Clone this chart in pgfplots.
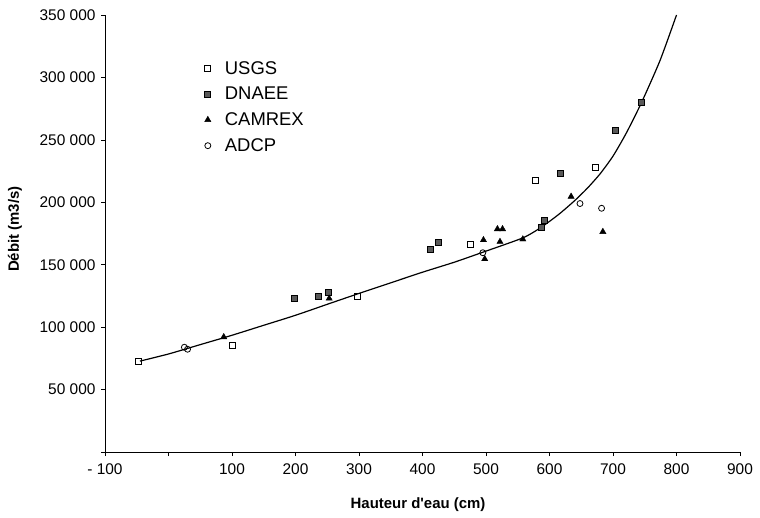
\documentclass[border=0pt]{standalone}
\usepackage{fontspec}
\setmainfont{Liberation Sans}[Ligatures=TeXOff]
\usepackage{pgfplots}
\usepackage{pgfplotstable}
\pgfplotsset{compat=1.18}
\pgfplotstableread{
x y
-48 72500
101 85500
297 124500
476 166000
578 217800
673 228300
}\usgs
\pgfplotstableread{
x y
198 123100
236 124400
252 127600
412 162300
425 167600
587 180000
592 185200
617 223500
704 257900
745 279800
}\dnaee
\pgfplotstableread{
x y
87 92100
253 123000
496 169800
498 154600
518 178600
526 178600
522 168400
558 170400
634 204600
684 176400
}\camrex
\pgfplotstableread{
x y
25 83900
30 82300
495 159600
648 199000
682 195200
}\adcp
\pgfplotstableread{
x y
-45 72800
0 78500
50 86000
100 93500
150 101500
200 109500
254 119000
300 127000
350 135500
400 144000
450 152000
495 160000
558 171500
587 180000
615 190500
640 201500
660 211500
680 223000
700 237000
721 255500
745 280000
774 313500
800 350000
}\curve
\begin{document}
\begin{tikzpicture}
\begin{axis}[
  scale only axis, width=635bp, height=437bp,
  xmin=-100, xmax=900, ymin=0, ymax=350000,
  axis x line*=bottom, axis y line*=left,
  axis line style={black, line width=0.7bp},
  xtick={-100,0,100,200,300,400,500,600,700,800,900},
  xticklabels={- 100,,100,200,300,400,500,600,700,800,900},
  ytick={0,50000,100000,150000,200000,250000,300000,350000},
  yticklabels={,50 000,100 000,150 000,200 000,250 000,300 000,350 000},
  scaled y ticks=false,
  tick align=outside, major tick length=4bp,
  tick style={black, line width=0.6bp},
  ticklabel style={font=\fontsize{15.5}{18}\selectfont},
  xticklabel style={yshift=-4bp},
  yticklabel style={xshift=-2bp},
  xlabel={Hauteur d'eau (cm)}, ylabel={Débit (m3/s)},
  label style={font=\fontsize{15}{18}\selectfont\bfseries},
  xlabel style={at={(axis description cs:0.493,-0.121)}, anchor=center},
  ylabel style={at={(axis description cs:-0.142,0.51)}, anchor=center},
  legend cell align=left,
  legend style={draw=none, fill=none, font=\fontsize{18.5}{20}\selectfont,
    at={(axis description cs:0.152,0.904)}, anchor=north west, row sep=7.5bp,
    /tikz/every odd column/.append style={column sep=12bp}},
]
\addplot[only marks, mark=square, mark size=3bp, mark options={black, line width=0.8bp, fill=white}] table[x=x,y=y]{\usgs};
\addlegendentry{USGS}
\addplot[only marks, mark=square*, mark size=3bp, mark options={draw=black, line width=0.8bp, fill=black!65}] table[x=x,y=y]{\dnaee};
\addlegendentry{DNAEE}
\addplot[only marks, mark=triangle*, mark size=3.6bp, mark options={black, fill=black}] table[x=x,y=y]{\camrex};
\addlegendentry{CAMREX}
\addplot[only marks, mark=o, mark size=3bp, mark options={black, line width=0.8bp, fill=white}] table[x=x,y=y]{\adcp};
\addlegendentry{ADCP}
\addplot[black, line width=1.2bp, smooth, tension=0.4, forget plot] table[x=x,y=y]{\curve};
\end{axis}
\pgfresetboundingbox
\path ([shift={(-105bp,-65bp)}]current axis.south west) rectangle ([shift={(20bp,15bp)}]current axis.north east);
\end{tikzpicture}
\end{document}
